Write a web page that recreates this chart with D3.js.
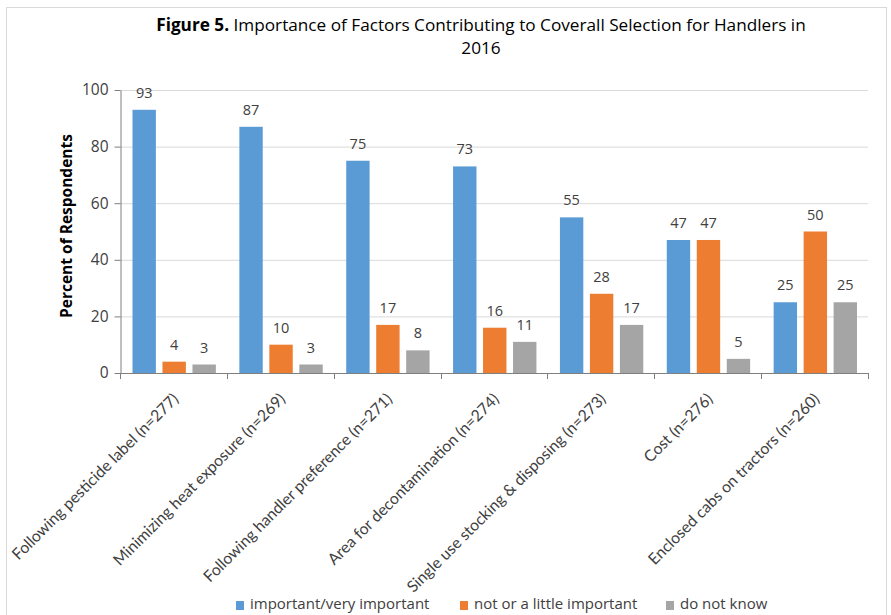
<!DOCTYPE html>
<html>
<head>
<meta charset="utf-8">
<script src="https://cdn.jsdelivr.net/npm/d3@7"></script>
<style>
  html, body { margin: 0; padding: 0; background: #fff; }
  svg { display: block; font-family: "Open Sans", "Noto Sans", sans-serif; }
</style>
</head>
<body>
<svg id="chart" width="891" height="615"></svg>
<script>
// Survey results: share of respondents rating each factor
const categories = [
  "Following pesticide label (n=277)",
  "Minimizing heat exposure (n=269)",
  "Following handler preference (n=271)",
  "Area for decontamination (n=274)",
  "Single use stocking & disposing (n=273)",
  "Cost (n=276)",
  "Enclosed cabs on tractors (n=260)"
];
const seriesNames = ["important/very important", "not or a little important", "do not know"];
const importantValues = [93, 87, 75, 73, 55, 47, 25];
const notImportantValues = [4, 10, 17, 16, 28, 47, 50];
const dontKnowValues = [3, 3, 8, 11, 17, 5, 25];
const yTicks = [0, 20, 40, 60, 80, 100];
const colors = ["#5B9BD5", "#ED7D31", "#A5A5A5"];

const seriesValues = [importantValues, notImportantValues, dontKnowValues];

const svg = d3.select("#chart");

// light outer frame of the chart area
svg.append("rect")
  .attr("x", 6.5).attr("y", 7.5)
  .attr("width", 880).attr("height", 620)
  .attr("fill", "#fff").attr("stroke", "#d9d9d9");

const plot = { left: 120, right: 868, top: 90, bottom: 373 };

const x0 = d3.scaleBand().domain(categories).range([plot.left, plot.right]).paddingInner(0).paddingOuter(0);
const x1 = d3.scaleBand().domain(d3.range(3)).range([12.5, x0.bandwidth() - 11]).paddingInner(0.22).paddingOuter(0);
const y = d3.scaleLinear().domain([0, 100]).range([plot.bottom, plot.top]);

// gridlines
svg.append("g")
  .selectAll("line")
  .data(yTicks.filter(d => d > 0))
  .join("line")
  .attr("x1", plot.left).attr("x2", plot.right)
  .attr("y1", d => y(d) + 0.5).attr("y2", d => y(d) + 0.5)
  .attr("stroke", "#d9d9d9").attr("stroke-width", 1);

// bars
const groups = svg.append("g")
  .selectAll("g")
  .data(categories)
  .join("g")
  .attr("transform", d => `translate(${x0(d)},0)`);

groups.selectAll("rect")
  .data((d, i) => seriesValues.map((s, k) => ({ k, v: s[i] })))
  .join("rect")
  .attr("x", d => x1(d.k))
  .attr("width", x1.bandwidth())
  .attr("y", d => y(d.v))
  .attr("height", d => y(0) - y(d.v))
  .attr("fill", d => colors[d.k]);

// value labels
groups.selectAll("text")
  .data((d, i) => seriesValues.map((s, k) => ({ k, v: s[i] })))
  .join("text")
  .attr("x", d => x1(d.k) + x1.bandwidth() / 2)
  .attr("y", d => y(d.v) - 12)
  .attr("text-anchor", "middle")
  .attr("font-size", 14.5)
  .attr("fill", "#404040")
  .text(d => d.v);

// y axis
const yAxis = svg.append("g")
  .attr("transform", `translate(${plot.left + 0.5},0)`)
  .call(d3.axisLeft(y).tickValues(yTicks).tickSize(6).tickSizeOuter(0).tickPadding(6));
yAxis.select(".domain").attr("stroke", "#7f7f7f");
yAxis.selectAll(".tick line").attr("stroke", "#7f7f7f");
yAxis.selectAll(".tick text")
  .attr("font-size", 15.5).attr("fill", "#404040")
  .attr("font-family", "'Open Sans', sans-serif");

// x axis: ticks at category boundaries
const xg = svg.append("g");
xg.append("line")
  .attr("x1", plot.left).attr("x2", plot.right)
  .attr("y1", plot.bottom + 0.5).attr("y2", plot.bottom + 0.5)
  .attr("stroke", "#7f7f7f");
xg.selectAll("line.tk")
  .data(categories.map(c => x0(c)).concat([plot.right]))
  .join("line")
  .attr("class", "tk")
  .attr("x1", d => Math.round(d) + 0.5).attr("x2", d => Math.round(d) + 0.5)
  .attr("y1", plot.bottom).attr("y2", plot.bottom + 6)
  .attr("stroke", "#7f7f7f");

// rotated category labels
xg.selectAll("text")
  .data(categories)
  .join("text")
  .attr("transform", d => `translate(${x0(d) + x0.bandwidth() / 2 + 6},${plot.bottom + 27}) rotate(-45)`)
  .attr("text-anchor", "end")
  .attr("font-family", "Lato, 'Open Sans', sans-serif")
  .attr("font-size", 15.8)
  .attr("fill", "#404040")
  .text(d => d);

// y axis title
svg.append("text")
  .attr("transform", `translate(72,226) rotate(-90)`)
  .attr("text-anchor", "middle")
  .attr("font-size", 15.5)
  .attr("font-weight", "bold")
  .attr("fill", "#000")
  .text("Percent of Respondents");

// title
const title = svg.append("text")
  .attr("x", 481).attr("y", 31)
  .attr("text-anchor", "middle")
  .attr("font-size", 17.2)
  .attr("fill", "#000");
title.append("tspan").attr("font-weight", "bold").text("Figure 5.");
title.append("tspan").text(" Importance of Factors Contributing to Coverall Selection for Handlers in");
svg.append("text")
  .attr("x", 481).attr("y", 54)
  .attr("text-anchor", "middle")
  .attr("font-size", 17.2)
  .attr("fill", "#000")
  .text("2016");

// legend
const legendX = [236, 460, 666];
const legend = svg.append("g")
  .selectAll("g")
  .data(seriesNames)
  .join("g")
  .attr("transform", (d, i) => `translate(${legendX[i]},609)`);
legend.append("rect")
  .attr("x", 0).attr("y", -8)
  .attr("width", 8).attr("height", 9)
  .attr("fill", (d, i) => colors[i]);
legend.append("text")
  .attr("x", 14).attr("y", 0)
  .attr("font-size", 15)
  .attr("fill", "#404040")
  .text(d => d);
</script>
</body>
</html>
